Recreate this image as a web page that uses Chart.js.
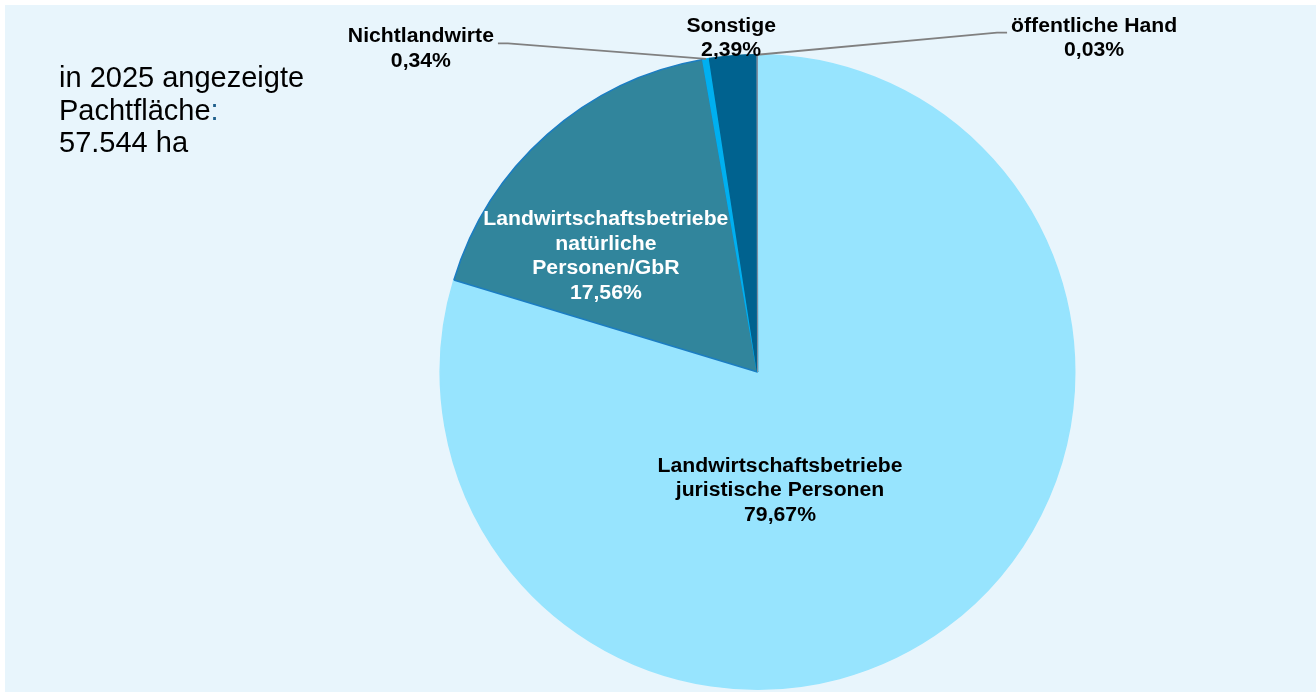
<!DOCTYPE html>
<html>
<head>
<meta charset="utf-8">
<script src="https://cdn.jsdelivr.net/npm/chart.js@4.4.1/dist/chart.umd.min.js"></script>
<style>
  html, body { margin: 0; padding: 0; background: #ffffff; }
  #wrap { width: 1316px; height: 692px; position: relative; }
  canvas { display: block; }
</style>
</head>
<body>
<div id="wrap"><canvas id="c" width="1316" height="692"></canvas></div>
<script>
// ---- data ----
const categories = [
  ["Landwirtschaftsbetriebe", "juristische Personen"],
  ["Landwirtschaftsbetriebe", "natürliche", "Personen/GbR"],
  ["Nichtlandwirte"],
  ["Sonstige"],
  ["öffentliche Hand"]
];
const shares = [79.67, 17.56, 0.34, 2.39, 0.03];
const sliceColors = ["#97E4FE", "#31859C", "#00B0F0", "#00628F", "#7F8FA0"];
const sliceBorders = ["#97E4FE", "#1B7DC2", "#00B0F0", "#00628F", "#7F8FA0"];
const labelColors = ["#000000", "#FFFFFF", "#000000", "#000000", "#000000"];
const titleLines = ["in 2025 angezeigte", "Pachtfläche", "57.544 ha"];

// label layout relative to pie centre, in radius units (first-line baseline)
const labelPos = [
  { dx: 0.071, dy: 0.3145, leader: false },
  { dx: -0.478, dy: -0.462, leader: false },
  { dx: -1.061, dy: -1.039, leader: true, side: "right" },
  { dx: -0.083, dy: -1.073, leader: false },
  { dx: 1.061, dy: -1.073, leader: true, side: "left" }
];

function fmt(v) { return v.toFixed(2).replace(".", ",") + "%"; }

const FONT = "'Liberation Sans', Arial, sans-serif";
const LINE_H = 24.5;
const XSCALE = 1.06;

const bgPlugin = {
  id: "bg",
  beforeDraw(chart) {
    const ctx = chart.ctx;
    ctx.save();
    ctx.fillStyle = "#ffffff";
    ctx.fillRect(0, 0, chart.width, chart.height);
    ctx.fillStyle = "#E8F5FC";
    ctx.fillRect(5, 5, chart.width - 5, chart.height - 5);
    ctx.restore();
  }
};

function drawScaledText(ctx, text, x, y) {
  ctx.save();
  ctx.translate(x, y);
  ctx.scale(XSCALE, 1);
  ctx.fillText(text, 0, 0);
  ctx.restore();
}

const labelPlugin = {
  id: "labels",
  afterDraw(chart) {
    const ctx = chart.ctx;
    const meta = chart.getDatasetMeta(0);
    const arc0 = meta.data[0];
    const cx = arc0.x, cy = arc0.y, R = arc0.outerRadius;
    ctx.save();
    // leader lines
    ctx.strokeStyle = "#808080";
    ctx.lineWidth = 1.8;
    meta.data.forEach((arc, i) => {
      const p = labelPos[i];
      if (!p.leader) return;
      const mid = (arc.startAngle + arc.endAngle) / 2;
      const ex = cx + Math.cos(mid) * R;
      const ey = cy + Math.sin(mid) * R;
      const lx = cx + p.dx * R;
      const ly = cy + p.dy * R;
      ctx.font = "bold 20px " + FONT;
      const w = ctx.measureText(categories[i][0]).width * XSCALE;
      const y0 = ly + 1;
      let sx, kx;
      if (p.side === "right") { sx = lx + w / 2 + 4; kx = sx + 10; }
      else { sx = lx - w / 2 - 4; kx = sx - 10; }
      ctx.beginPath();
      ctx.moveTo(sx, y0);
      ctx.lineTo(kx, y0);
      ctx.lineTo(ex, ey);
      ctx.stroke();
    });
    // texts
    ctx.font = "bold 20px " + FONT;
    ctx.textAlign = "center";
    ctx.textBaseline = "alphabetic";
    meta.data.forEach((arc, i) => {
      const p = labelPos[i];
      const lx = cx + p.dx * R;
      const ly = cy + p.dy * R;
      const lines = categories[i].concat([fmt(shares[i])]);
      ctx.fillStyle = labelColors[i];
      lines.forEach((t, k) => drawScaledText(ctx, t, lx, ly + k * LINE_H));
    });
    // title text on the left
    ctx.textAlign = "left";
    ctx.font = "29px " + FONT;
    ctx.fillStyle = "#000000";
    const tx = 59;
    const base = [87, 119.5, 152];
    titleLines.forEach((t, k) => {
      ctx.fillStyle = "#000000";
      ctx.fillText(t, tx, base[k]);
      if (k === 1) {
        const w = ctx.measureText(t).width;
        ctx.fillStyle = "#1F5F8B";
        ctx.fillText(":", tx + w, base[k]);
      }
    });
    ctx.restore();
  }
};

new Chart(document.getElementById("c"), {
  type: "pie",
  data: {
    labels: categories.map(c => c.join(" ")),
    datasets: [{
      data: shares,
      backgroundColor: sliceColors,
      borderColor: sliceBorders,
      borderWidth: [1.5, 1.5, 1.5, 1.5, 1]
    }]
  },
  options: {
    responsive: false,
    animation: false,
    rotation: 0,
    layout: { padding: { left: 199, right: 0, top: 54, bottom: 2 } },
    plugins: {
      legend: { display: false },
      tooltip: { enabled: false },
      title: { display: false }
    }
  },
  plugins: [bgPlugin, labelPlugin]
});
</script>
</body>
</html>
